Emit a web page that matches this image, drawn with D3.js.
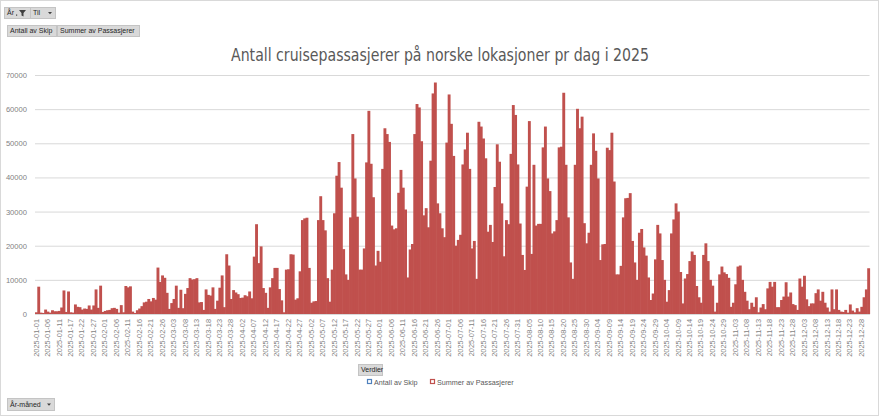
<!DOCTYPE html>
<html>
<head>
<meta charset="utf-8">
<script src="https://cdn.jsdelivr.net/npm/d3@7"></script>
<style>
  body { margin: 0; background: #fff; }
  svg { display: block; font-family: "Liberation Sans", Arial, sans-serif; }
</style>
</head>
<body>
<div id="graph"></div>
<script>
/* Chart data */
const chartTitle = "Antall cruisepassasjerer på norske lokasjoner pr dag i 2025"
const seriesNames = ["Antall av Skip", "Summer av Passasjerer"]
const seriesColors = ["#4F81BD", "#C0504D"]
const yTicks = [0, 10000, 20000, 30000, 40000, 50000, 60000, 70000]
const firstDay = "2025-01-01"
const lastDay = "2025-12-31"
const missingDays = ["2025-01-14"]   // no data that day, so no category
const labelEvery = 5

// Summer av Passasjerer, one value per day
const passengers = [
    500, 8000, 400, 300, 1300, 700, 400, 1100, 800, 800,
    900, 1900, 6900, 600, 6600, 500, 400, 2800, 2100, 2000,
    1300, 1600, 1500, 2500, 1300, 2500, 7200, 1800, 8300, 600,
    900, 1100, 1200, 1700, 1800, 1500, 400, 2600, 500, 8200,
    7800, 8100, 700, 300, 1100, 1600, 2300, 3400, 3600, 4400,
    3700, 4700, 4200, 13600, 9400, 11300, 10600, 6200, 1500, 3200,
    4400, 8300, 1800, 7100, 1700, 5900, 7600, 10500, 10100, 10200,
    10500, 3400, 3500, 1200, 7200, 5600, 5400, 7800, 1500, 3900,
    7700, 11300, 2000, 17500, 14200, 4400, 7000, 6300, 5800, 4700,
    4800, 5500, 5200, 6600, 4600, 16800, 26300, 14900, 19800, 7600,
    6200, 1800, 7800, 10500, 13500, 13500, 7300, 4000, 500, 13000,
    13100, 17500, 17400, 4200, 4600, 12500, 27500, 28000, 28200, 13500,
    3300, 3700, 3800, 27500, 34500, 27500, 24500, 10500, 3600, 13000,
    29500, 40500, 44500, 37000, 19000, 11600, 10000, 28300, 52700, 39700,
    28500, 13000, 13000, 19200, 44400, 59500, 44000, 34200, 14200, 18500,
    15300, 42500, 54400, 52700, 50400, 25900, 24800, 25100, 35500, 42200,
    37000, 30600, 10700, 18900, 20500, 52700, 61500, 60500, 50600, 28900,
    31000, 25400, 44900, 64600, 67800, 32400, 29500, 25100, 22500, 50200,
    64300, 55700, 46300, 20000, 21700, 23200, 43800, 48200, 53100, 42500,
    19200, 21400, 10300, 56300, 54900, 51400, 45600, 24100, 26100, 21100,
    37200, 49700, 44600, 32400, 16900, 27500, 26300, 46900, 61200, 58300,
    43800, 26500, 17300, 12900, 37300, 56500, 17600, 43700, 25900, 26400,
    26400, 48800, 54900, 39700, 36000, 23600, 24200, 27500, 48800, 49000,
    64800, 43700, 28300, 15100, 10300, 43700, 60100, 54400, 57800, 26600,
    20700, 23800, 43700, 52900, 47800, 39700, 15800, 20400, 20500, 48700,
    48000, 53100, 38800, 11600, 11600, 14100, 28300, 33900, 34000, 35400,
    21400, 15100, 10000, 23800, 24900, 19500, 17100, 10700, 4100, 6000,
    16000, 26100, 23600, 15800, 10000, 3600, 7000, 23600, 27700, 32400,
    30000, 12300, 3100, 10400, 11700, 15500, 18300, 17300, 8200, 4900,
    3300, 17300, 20700, 15500, 10000, 8300, 700, 3300, 11600, 13900,
    12200, 11700, 10600, 2100, 3300, 8700, 13900, 14200, 10000, 6500,
    3900, 1400, 3300, 2100, 4900, 500, 1900, 2900, 1400, 7500,
    9400, 8000, 9400, 2000, 2000, 4100, 5100, 9300, 5100, 6300,
    2900, 2600, 1200, 10400, 8000, 11200, 4300, 2300, 3100, 3100,
    6100, 7200, 3900, 6500, 3300, 1900, 700, 7200, 1400, 7200,
    1200, 700, 600, 1200, 400, 2800, 1000, 500, 1700, 700,
    2100, 4900, 7200, 13400
]

window.addEventListener("DOMContentLoaded", main)

function main() {
    const fmt = d3.timeFormat("%Y-%m-%d")
    const parse = d3.timeParse("%Y-%m-%d")
    const categories = d3.timeDay.range(parse(firstDay), d3.timeDay.offset(parse(lastDay), 1))
        .map(fmt)
        .filter(d => !missingDays.includes(d))
    const tickLabels = categories.filter((d, i) => i % labelEvery === 0)
    const dataset = categories.map((d, i) => ({ day: d, value: passengers[i] }))
    drawChart(dataset, categories, tickLabels)
}

function drawChart(dataset, categories, tickLabels) {
    const W = 880, H = 417
    const plot = { left: 35, right: 869.5, top: 75, bottom: 314 }
    const textGrey = "#7f7f7f"

    const svg = d3.select("#graph").append("svg").attr("width", W).attr("height", H)

    /* chart frame */
    svg.append("rect")
        .attr("x", 0.5).attr("y", 0.5).attr("width", 878).attr("height", 415)
        .attr("fill", "#fff").attr("stroke", "#d9d9d9")

    /* Scales */
    const xScale = d3.scaleBand().domain(categories).range([plot.left, plot.right]).padding(0)
    const yScale = d3.scaleLinear().domain([0, 70000]).range([plot.bottom, plot.top])

    /* Gridlines + y labels */
    const yAxis = d3.axisLeft(yScale).tickValues(yTicks).tickSize(-(plot.right - plot.left)).tickPadding(8).tickFormat(d3.format("d"))
    const gy = svg.append("g").attr("id", "y-axis")
        .attr("transform", "translate(" + plot.left + ",0)")
        .call(yAxis)
    gy.select(".domain").remove()
    gy.selectAll("line").attr("stroke", "#d9d9d9")
    gy.selectAll("text").attr("fill", textGrey).style("font-size", "7.6px")

    /* Bars - a little wider than the band so neighbours close up */
    svg.append("g").selectAll("rect")
        .data(dataset)
        .enter()
        .append("rect")
        .attr("x", d => xScale(d.day))
        .attr("width", xScale.bandwidth() + 0.6)
        .attr("y", d => yScale(d.value))
        .attr("height", d => yScale(0) - yScale(d.value))
        .attr("fill", seriesColors[1])

    /* X axis */
    const xAxis = d3.axisBottom(xScale).tickValues(tickLabels).tickSize(0).tickPadding(0)
    const gx = svg.append("g").attr("id", "x-axis")
        .attr("transform", "translate(0," + plot.bottom + ")")
        .call(xAxis)
    gx.select(".domain").attr("stroke", "#d9d9d9")
    gx.selectAll("text")
        .attr("fill", textGrey)
        .style("font-size", "7.4px")
        .attr("text-anchor", "end")
        .attr("transform", "rotate(-90)")
        .attr("x", -5)
        .attr("y", 0)
        .attr("dy", "0.33em")

    /* Title */
    const t = svg.append("text")
        .attr("x", 440).attr("y", 61)
        .attr("text-anchor", "middle")
        .attr("fill", "#595959")
        .style("font-size", "17.5px")
        .style("font-family", "'Liberation Sans Narrow', 'DejaVu Sans Condensed', 'Liberation Sans', sans-serif")
        .text(chartTitle)
    const tw = t.node().getComputedTextLength()
    if (Math.abs(tw - 418) > 8) t.attr("textLength", 418).attr("lengthAdjust", "spacingAndGlyphs")

    /* Pivot field buttons */
    fieldButton(svg, 4, 7, 26, 11, "År", { funnel: true })
    fieldButton(svg, 30, 7, 25, 11, "Til", { arrow: true })
    fieldButton(svg, 7, 25, 49, 11, seriesNames[0], {})
    fieldButton(svg, 57, 25, 82, 11, seriesNames[1], {})
    fieldButton(svg, 7, 398, 47, 12, "År-måned", { arrow: true })
    fieldButton(svg, 358, 364, 24, 11, "Verdier", {})

    /* Legend */
    const legendItems = [
        { text: seriesNames[0], color: seriesColors[0], x: 367 },
        { text: seriesNames[1], color: seriesColors[1], x: 430 }
    ]
    const legend = svg.append("g").attr("id", "legend")
        .selectAll("g").data(legendItems).enter().append("g")
        .attr("transform", d => "translate(" + d.x + ",383)")
    legend.append("rect")
        .attr("x", 0.5).attr("y", -3.5).attr("width", 4).attr("height", 4)
        .attr("fill", "#fff").attr("stroke", d => d.color).attr("stroke-width", 1.2)
    legend.append("text")
        .attr("x", 7).attr("y", 0).attr("dy", "0.3em")
        .attr("fill", "#595959")
        .style("font-size", "7.2px")
        .text(d => d.text)
}

function fieldButton(svg, x, y, w, h, label, opts) {
    const g = svg.append("g").attr("transform", "translate(" + x + "," + y + ")")
    g.append("rect")
        .attr("x", 0.5).attr("y", 0.5).attr("width", w).attr("height", h)
        .attr("fill", "#d9d9d9").attr("stroke", "#c4c4c4")
    g.append("text")
        .attr("x", 3).attr("y", h / 2 + 0.5).attr("dy", "0.35em")
        .attr("fill", "#262626")
        .style("font-size", "7px")
        .text(label)
    if (opts.funnel) {
        g.append("path")
            .attr("d", "M" + (w - 11) + ",3 h7 l-2.5,3 v3.5 l-2,-1 v-2.5 z")
            .attr("fill", "#404040")
        g.append("rect").attr("x", w - 14).attr("y", 7.5).attr("width", 1.2).attr("height", 1.2).attr("fill", "#404040")
    }
    if (opts.arrow) {
        g.append("path")
            .attr("d", "M" + (w - 7) + "," + (h / 2 - 0.5) + " h4 l-2,2.2 z")
            .attr("fill", "#404040")
    }
}
</script>
</body>
</html>
